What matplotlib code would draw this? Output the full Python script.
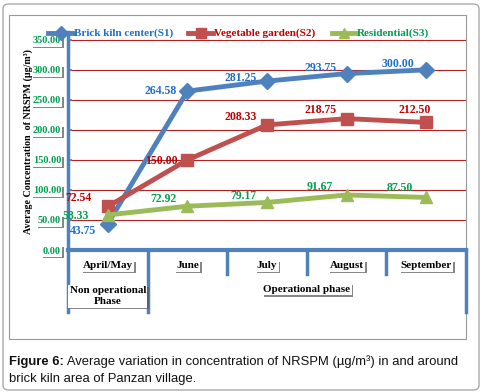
import matplotlib
matplotlib.use("Agg")
import matplotlib.pyplot as plt
import matplotlib.patheffects as pe
from matplotlib.lines import Line2D
from matplotlib.patches import FancyBboxPatch, Rectangle
import matplotlib.transforms as mtransforms

months = ["April/May", "June", "July", "August", "September"]
phases = ["Non operational\nPhase", "Operational phase"]
series_names = ["Brick kiln center(S1)", "Vegetable garden(S2)", "Residential(S3)"]
s1 = [43.75, 264.58, 281.25, 293.75, 300.00]
s2 = [72.54, 150.00, 208.33, 218.75, 212.50]
s3 = [58.33, 72.92, 79.17, 91.67, 87.50]
yticks = [0, 50, 100, 150, 200, 250, 300, 350]

line_colors = ["#4F81BD", "#C0504D", "#9BBB59"]
text_colors = ["#1F6FC8", "#C00000", "#00A050"]
markers = ["D", "s", "^"]
msizes = [8, 8.5, 8.5]

# label offsets in points (dx, dy) relative to each marker
offsets = [
    [(-18, -5), (-19, 0), (-19, 2), (-19, 4), (-20, 4)],
    [(-21, 6), (-19, -1), (-19, 6), (-19, 6), (-8, 9)],
    [(-23, -1), (-17, 5), (-17, 5), (-19, 6), (-19, 7)],
]

serif = "Liberation Serif"
shadow = [pe.withSimplePatchShadow(offset=(1.2, -1.2), shadow_rgbFace="#555555", alpha=0.7)]

fig = plt.figure(figsize=(4.82, 3.92), dpi=100)

# outer frame and inner chart frame
fig.patches.append(FancyBboxPatch((3 / 482, 2 / 392), 476 / 482, 386 / 392,
                                  boxstyle="round,pad=0,rounding_size=0.012",
                                  transform=fig.transFigure, fc="none", ec="#aaaaaa",
                                  lw=1, zorder=-2))
fig.patches.append(Rectangle((9 / 482, 1 - 339 / 392), 457 / 482, 324 / 392,
                             transform=fig.transFigure, fc="none", ec="#999999",
                             lw=0.8, zorder=-2))

ax = fig.add_axes([68 / 482, 1 - 250 / 392, 398 / 482, 218 / 392])
ax.set_facecolor("none")
x = list(range(len(months)))
all_series = [s1, s2, s3]

for i, ys in enumerate(all_series):
    ax.plot(x, ys, color=line_colors[i], lw=3.5, marker=markers[i], ms=msizes[i],
            mfc=line_colors[i], mec=line_colors[i], zorder=3 + i * 0.1, clip_on=False)
    for j, v in enumerate(ys):
        ax.annotate(f"{v:.2f}", (x[j], v), xytext=offsets[i][j], textcoords="offset points",
                    ha="center", va="center", fontsize=8.5, family=serif,
                    fontweight="bold", color=text_colors[i], zorder=6)

ax.set_xlim(-0.5, len(months) - 0.5)
ax.set_ylim(0, 363)
ax.set_yticks(yticks)
ax.set_yticklabels([f"{t:.2f}" for t in yticks])
for t in yticks[1:]:
    ax.axhline(t, color="#B22222", lw=0.8, zorder=1)

for s in ["top", "right"]:
    ax.spines[s].set_visible(False)
ax.spines["left"].set_color(line_colors[0])
ax.spines["left"].set_linewidth(2.5)
ax.spines["bottom"].set_color(line_colors[0])
ax.spines["bottom"].set_linewidth(3)
ax.set_xticks([])
ax.tick_params(axis="y", direction="in", length=3, width=1.2, color=line_colors[0], pad=5)
for lab in ax.get_yticklabels():
    lab.set_fontfamily(serif)
    lab.set_fontsize(7.5)
    lab.set_fontweight("bold")
    lab.set_color("#00A050")
    lab.set_bbox(dict(boxstyle="square,pad=0.12", fc="white", ec="none"))
    lab.get_bbox_patch().set_path_effects(shadow)

ax.set_ylabel("Average Concentration  of NRSPM (\u00b5g/m\u00b3)", family=serif,
              fontsize=7.2, fontweight="bold", labelpad=0)

# multi-level category axis
trans = mtransforms.blended_transform_factory(ax.transData, ax.transAxes)
n = len(months)
for b in range(n + 1):
    xb = b - 0.5
    bottom = -0.285 if b in (0, 1, n) else -0.11
    ax.add_line(Line2D([xb, xb], [0, bottom], transform=trans, color=line_colors[0],
                       lw=2.5, clip_on=False))
box = dict(boxstyle="square,pad=0.12", fc="white", ec="none")
for j, m in enumerate(months):
    t = ax.text(j, -0.073, m, transform=trans, ha="center", va="center", family=serif,
                fontsize=8, fontweight="bold", bbox=box)
    t.get_bbox_patch().set_path_effects(shadow)
t = ax.text(0, -0.213, phases[0], transform=trans, ha="center", va="center", family=serif,
            fontsize=8, fontweight="bold", linespacing=1.3, bbox=box)
t.get_bbox_patch().set_path_effects(shadow)
t = ax.text(2.5, -0.18, phases[1], transform=trans, ha="center", va="center", family=serif,
            fontsize=8, fontweight="bold", bbox=box)
t.get_bbox_patch().set_path_effects(shadow)

# legend row
leg_x = [(48, 73), (188, 213), (332, 356)]
ly = 1 - 33 / 392
for i, name in enumerate(series_names):
    x0, x1 = leg_x[i]
    fig.add_artist(Line2D([x0 / 482, x1 / 482], [ly, ly], color=line_colors[i], lw=3.5,
                          transform=fig.transFigure))
    fig.add_artist(Line2D([(x0 + x1) / 2 / 482], [ly], color=line_colors[i], marker=markers[i],
                          ms=msizes[i] - 1, transform=fig.transFigure))
    fig.text((x1 + 1) / 482, ly, name, ha="left", va="center", family=serif, fontsize=8,
             fontweight="bold", color=text_colors[i])

# caption
c1 = fig.text(9 / 482, 1 - 365 / 392, "Figure 6:", ha="left", va="baseline",
              family="Liberation Sans", fontsize=9.4, fontweight="bold", color="#111111")
ax.annotate(" Average variation in concentration of NRSPM (\u00b5g/m\u00b3) in and around",
            xy=(1, 0), xycoords=c1, va="bottom", ha="left", family="Liberation Sans",
            fontsize=9.4, color="#111111", annotation_clip=False)
fig.text(9 / 482, 1 - 382 / 392, "brick kiln area of Panzan village.", ha="left",
         va="baseline", family="Liberation Sans", fontsize=9.4, color="#111111")

fig.savefig("out.png", dpi=100)
